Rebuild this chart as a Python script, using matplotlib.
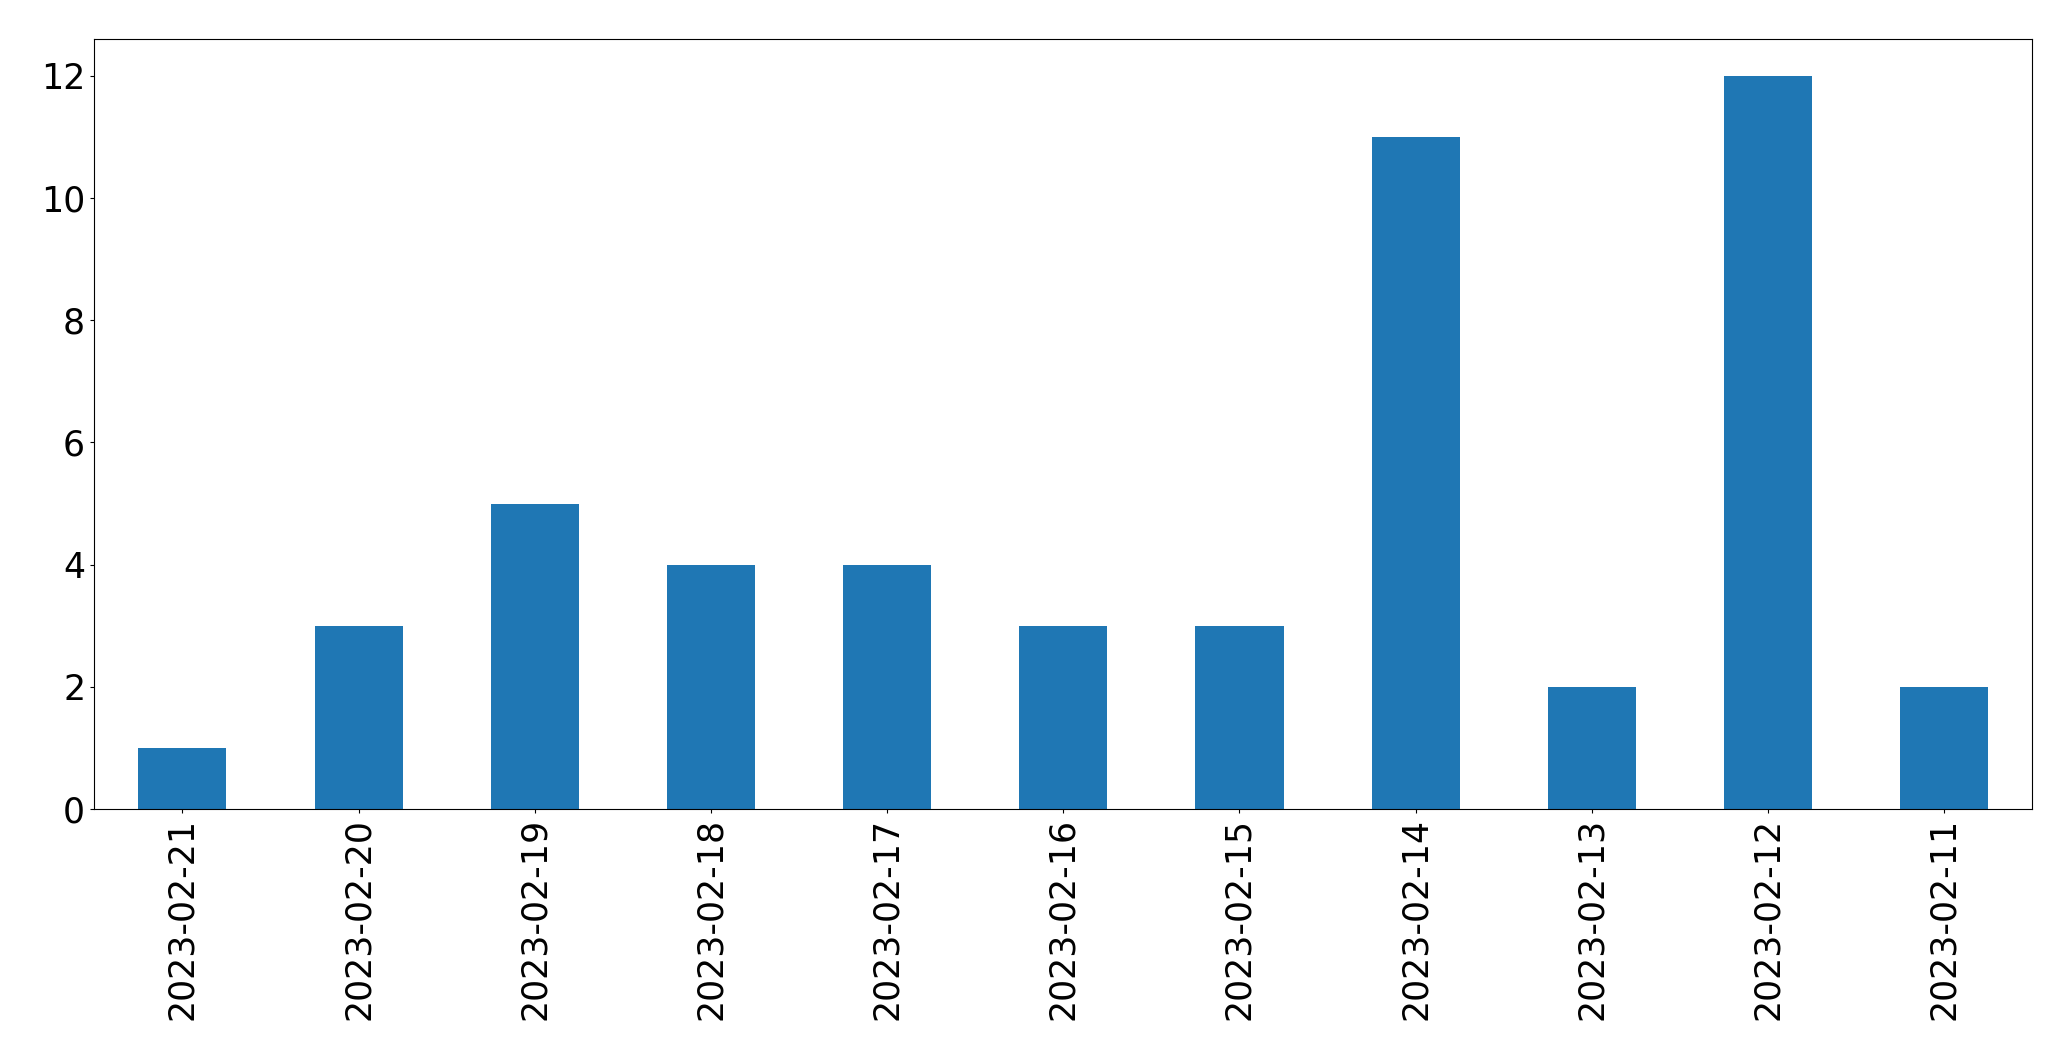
import matplotlib
matplotlib.use("Agg")
import matplotlib.pyplot as plt

dates = ["2023-02-21", "2023-02-20", "2023-02-19", "2023-02-18", "2023-02-17",
         "2023-02-16", "2023-02-15", "2023-02-14", "2023-02-13", "2023-02-12",
         "2023-02-11"]
counts = [1, 3, 5, 4, 4, 3, 3, 11, 2, 12, 2]

W, H = 2071, 1061
fig = plt.figure(figsize=(W / 100, H / 100), dpi=100)
ax = fig.add_axes([94.3 / W, 1 - 809 / H, (2032.3 - 94.3) / W, (809 - 39.3) / H])

x = list(range(len(dates)))
ax.bar(x, counts, width=0.5, color="#1f77b4")
ax.set_xlim(-0.5, len(dates) - 0.5)
ax.set_ylim(0, max(counts) * 1.05)
ax.set_xticks(x)
ax.set_xticklabels(dates, rotation=90)
ax.set_yticks([0, 2, 4, 6, 8, 10, 12])
ax.tick_params(labelsize=25, length=3.1)

fig.savefig("out.png", dpi=100)
